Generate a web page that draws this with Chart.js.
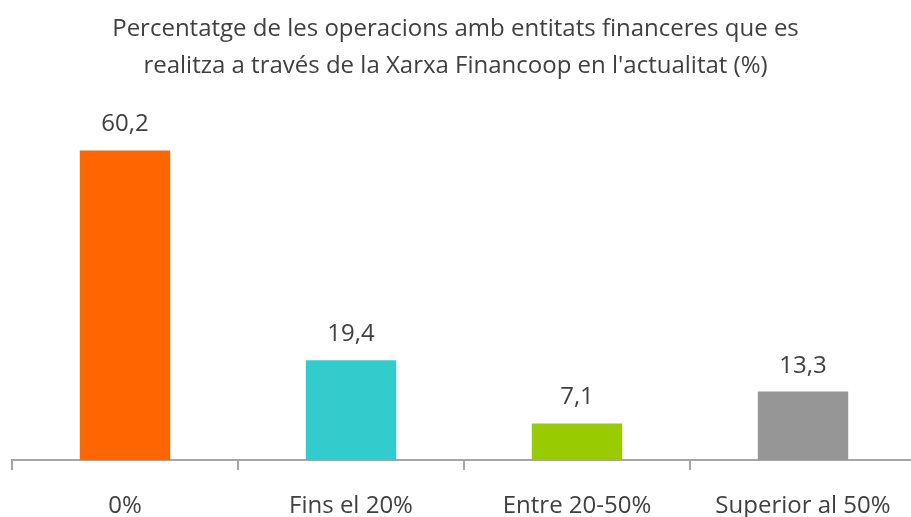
<!DOCTYPE html>
<html><head><meta charset="utf-8">
<script src="https://cdn.jsdelivr.net/npm/chart.js@4/dist/chart.umd.min.js"></script>
<style>html,body{margin:0;padding:0;overflow:hidden;background:#fff}#wrap{width:920px;height:517px;position:relative}</style>
</head><body><div id="wrap"><canvas id="c"></canvas></div>
<script>
const titleLines = ["Percentatge de les operacions amb entitats financeres que es", "realitza a través de la Xarxa Financoop en l'actualitat (%)"];
const categories = ["0%", "Fins el 20%", "Entre 20-50%", "Superior al 50%"];
const values = [60.2, 19.4, 7.1, 13.3];
const colors = ["#FF6600", "#33CCCC", "#99CC00", "#969696"];
const FONT = "'Open Sans', sans-serif";

const labelPlugin = {
  id: 'labels',
  afterDatasetsDraw(chart) {
    const ctx = chart.ctx;
    ctx.save();
    ctx.fillStyle = '#404040';
    ctx.font = "24px " + FONT;
    ctx.textAlign = 'center';
    ctx.textBaseline = 'alphabetic';
    chart.getDatasetMeta(0).data.forEach((bar, i) => {
      ctx.fillText(values[i].toFixed(1).replace('.', ','), bar.x, bar.y - 19);
    });
    ctx.font = "24px " + FONT;
    ctx.fillText(titleLines[0], 455.5, 36);
    ctx.fillText(titleLines[1], 455.5, 73);
    ctx.restore();
  }
};

new Chart(document.getElementById('c'), {
  type: 'bar',
  data: { labels: categories, datasets: [{ data: values, backgroundColor: colors, borderWidth: 0, categoryPercentage: 1, barPercentage: 0.4 }] },
  options: {
    responsive: true, maintainAspectRatio: false, animation: false,
    layout: { padding: { left: 12, right: 4, top: 100, bottom: 0 } },
    plugins: { legend: { display: false }, tooltip: { enabled: false }, title: { display: false } },
    scales: {
      y: { display: false, min: 0, max: 70 },
      x: {
        offset: true,
        grid: { display: true, drawOnChartArea: false, drawTicks: true, tickLength: 10, color: '#A6A6A6', lineWidth: 2, offset: true },
        border: { display: true, color: '#A6A6A6', width: 2 },
        ticks: { color: '#404040', font: { size: 24, family: FONT }, padding: 22 },
        afterFit(axis) { axis.height = 57; }
      }
    }
  },
  plugins: [labelPlugin]
});
</script></body></html>
